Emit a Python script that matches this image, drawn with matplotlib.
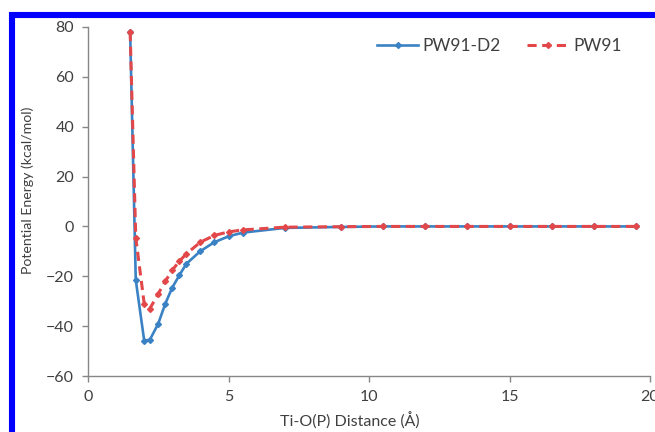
import matplotlib
matplotlib.use("Agg")
import matplotlib.pyplot as plt
from matplotlib.patches import Rectangle

plt.rcParams['font.family'] = ['Lato', 'DejaVu Sans']

# Ti-O(P) distance (A) and potential energy (kcal/mol)
dist = [1.5, 1.7, 2.0, 2.2, 2.5, 2.75, 3.0, 3.25, 3.5, 4.0, 4.5, 5.0, 5.5,
        7.0, 9.0, 10.5, 12.0, 13.5, 15.0, 16.5, 18.0, 19.5]
e_d2 = [78, -21.5, -45.8, -45.5, -39, -31, -24.5, -19.6, -15, -9.9, -6.3, -4.0, -2.5,
        -0.6, -0.2, 0, 0, 0, 0, 0, 0, 0]
e_pw91 = [78, -4.5, -31, -33, -27, -22, -17.5, -14, -11, -6.3, -3.6, -2.2, -1.4,
          -0.3, -0.1, 0, 0, 0, 0, 0, 0, 0]

xticks = [0, 5, 10, 15, 20]
yticks = [-60, -40, -20, 0, 20, 40, 60, 80]

W, H = 655, 432
fig = plt.figure(figsize=(W / 100, H / 100), dpi=100)
ax = fig.add_axes([88 / W, (H - 376) / H, (650 - 88) / W, (376 - 27) / H])

blue = '#3a82c4'
red = '#e2474a'
ax.plot(dist, e_d2, color=blue, lw=1.9, marker='D', ms=3, label='PW91-D2', zorder=2)
ax.plot(dist, e_pw91, color=red, lw=2.2, ls=(0, (3, 1.8)), marker='D', ms=3,
        label='PW91', zorder=3)

ax.set_xlim(0, 20)
ax.set_ylim(-60, 80)
ax.set_xticks(xticks)
ax.set_yticks(yticks)

grey = '#878787'
txt = '#404040'
for s in ['top', 'right']:
    ax.spines[s].set_visible(False)
for s in ['left', 'bottom']:
    ax.spines[s].set_color(grey)
    ax.spines[s].set_linewidth(1.0)
ax.tick_params(direction='out', length=4, width=1, color=grey,
               labelcolor=txt, labelsize=11.5, pad=6)

fig.text(349.5 / W, 1 - 421 / H, 'Ti-O(P) Distance (Å)', fontsize=11.5,
         color=txt, ha='center', va='center')
fig.text(28 / W, 1 - 190 / H, 'Potential Energy (kcal/mol)', fontsize=10.2,
         color=txt, ha='center', va='center', rotation=90)

ax.legend(ncol=2, loc='upper left', bbox_to_anchor=(0.486, 1.012), frameon=False,
          fontsize=12.5, handlelength=2.4, handletextpad=0.25, columnspacing=1.5,
          labelcolor=txt)

# blue frame around the figure (top and left edges visible)
fig.add_artist(Rectangle((12 / W, -0.2), 2, (H - 15) / H + 0.2,
                         transform=fig.transFigure, fill=False,
                         edgecolor='#0000ff', lw=4.4))

fig.savefig('out.png', dpi=100)
